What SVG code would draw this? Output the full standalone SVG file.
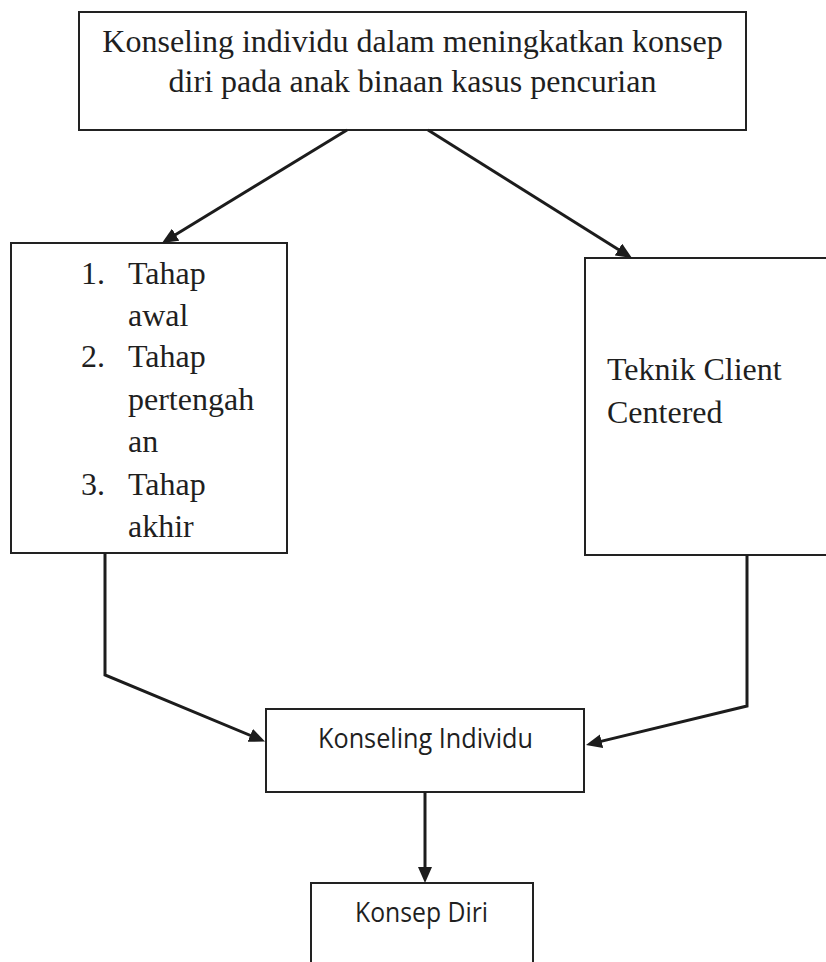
<svg xmlns="http://www.w3.org/2000/svg" width="826" height="962" viewBox="0 0 826 962">
  <style>
    .box { fill: #ffffff; stroke: #222222; stroke-width: 2; }
    .serif { font-family: "Liberation Serif", "Times New Roman", serif; font-size: 32px; fill: #1f1f1f; }
    .sans { font-family: "Open Sans", "Noto Sans", sans-serif; font-size: 27px; fill: #1f1f1f; }
    .conn { fill: none; stroke: #1c1c1c; stroke-width: 3; stroke-linejoin: miter; }
  </style>
  <defs>
    <marker id="arrow" viewBox="0 0 16 14" refX="6" refY="7" markerWidth="16" markerHeight="14" markerUnits="userSpaceOnUse" orient="auto">
      <path d="M0,0 L16,7 L0,14 Z" fill="#1c1c1c"/>
    </marker>
  </defs>
  <rect x="0" y="0" width="826" height="962" fill="#ffffff"/>

  <g id="node-top">
    <rect class="box" x="79" y="12" width="667" height="118"/>
    <text class="serif" x="412.5" y="52" text-anchor="middle">Konseling individu dalam meningkatkan konsep</text>
    <text class="serif" x="412.5" y="92" text-anchor="middle">diri pada anak binaan kasus pencurian</text>
  </g>

  <g id="node-tahap">
    <rect class="box" x="11" y="243" width="276" height="310"/>
    <text class="serif" x="81" y="284">1.</text>
    <text class="serif" x="128" y="284">Tahap</text>
    <text class="serif" x="128" y="326">awal</text>
    <text class="serif" x="81" y="367">2.</text>
    <text class="serif" x="128" y="367">Tahap</text>
    <text class="serif" x="128" y="410">pertengah</text>
    <text class="serif" x="128" y="452">an</text>
    <text class="serif" x="81" y="495">3.</text>
    <text class="serif" x="128" y="495">Tahap</text>
    <text class="serif" x="128" y="537">akhir</text>
  </g>

  <g id="node-teknik">
    <rect class="box" x="585" y="258" width="250" height="297"/>
    <text class="serif" x="607" y="380">Teknik Client</text>
    <text class="serif" x="607" y="423">Centered</text>
  </g>

  <g id="node-konseling">
    <rect class="box" x="266" y="709" width="318" height="83"/>
    <text class="sans" x="318" y="748" textLength="215" lengthAdjust="spacingAndGlyphs">Konseling Individu</text>
  </g>

  <g id="node-konsep">
    <rect class="box" x="311" y="883" width="222" height="100"/>
    <text class="sans" x="355" y="922" textLength="133" lengthAdjust="spacingAndGlyphs">Konsep Diri</text>
  </g>

  <g id="connectors">
    <path class="conn" d="M347,130 L170.5,237.8" marker-end="url(#arrow)"/>
    <path class="conn" d="M428,130 L623.5,252.7" marker-end="url(#arrow)"/>
    <path class="conn" d="M105,553 L105,675 L255.8,737.7" marker-end="url(#arrow)"/>
    <path class="conn" d="M747,555 L747,706 L595.7,742.6" marker-end="url(#arrow)"/>
    <path class="conn" d="M425,792 L425,873" marker-end="url(#arrow)"/>
  </g>
</svg>
